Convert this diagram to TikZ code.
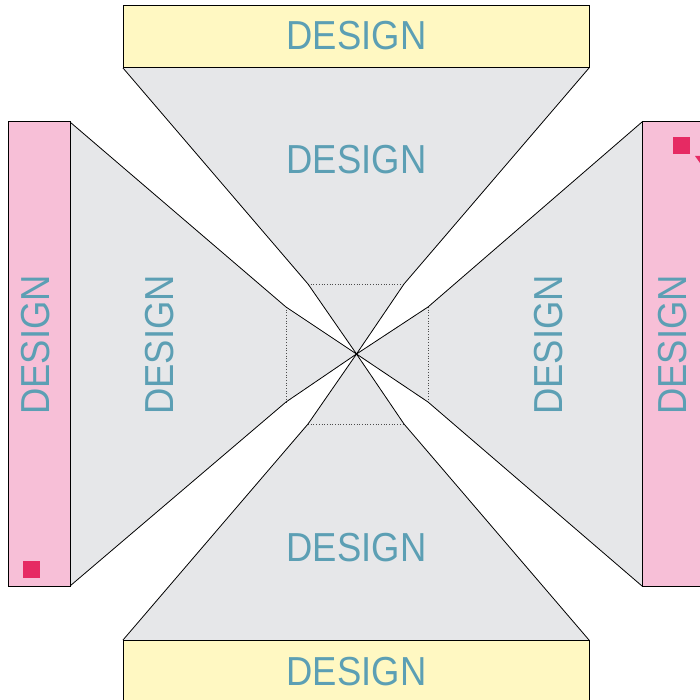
\documentclass[tikz,border=0pt]{standalone}
\usepackage{fontspec}
\newfontfamily\lblfont{Liberation Sans}[FakeStretch=0.9]
\definecolor{yel}{HTML}{FFF8C2}
\definecolor{pnk}{HTML}{F7BFD7}
\definecolor{gry}{HTML}{E6E7E9}
\definecolor{txt}{HTML}{5C9FB4}
\definecolor{mag}{HTML}{E62A63}
\tikzset{
  lbl/.style={inner sep=0pt, text=txt, font=\lblfont\fontsize{40.5}{44}\selectfont},
  piece/.style={fill=gry, draw=none},
  edge/.style={draw=black, line width=0.8pt, line join=miter},
  inner/.style={draw=black!70, dotted, line width=0.7pt},
  box/.style={draw=black, line width=1pt},
}
\begin{document}
\begin{tikzpicture}[x=1pt,y=-1pt]
\useasboundingbox (0,0) rectangle (700,700);
\clip (0,0) rectangle (700,700);
\coordinate (C) at (356.5,354);
% gray pieces
\fill[piece] (123,68) -- (589,68) -- (404,284) -- (C) -- (308,284) -- cycle;
\fill[piece] (123,640) -- (589,640) -- (404,424) -- (C) -- (308,424) -- cycle;
\fill[piece] (70,122) -- (70,586) -- (286,402) -- (C) -- (286,307) -- cycle;
\fill[piece] (642,122) -- (642,586) -- (428,402) -- (C) -- (428,307) -- cycle;
% dotted inner edges
\draw[inner] (308,284) -- (404,284);
\draw[inner] (308,424) -- (404,424);
\draw[inner] (286,307) -- (286,402);
\draw[inner] (428,307) -- (428,402);
% slanted edges
\draw[edge] (123,68) -- (308,284) -- (C) -- (404,284) -- (589,68);
\draw[edge] (123,640) -- (308,424) -- (C) -- (404,424) -- (589,640);
\draw[edge] (70,122) -- (286,307) -- (C) -- (286,402) -- (70,586);
\draw[edge] (642,122) -- (428,307) -- (C) -- (428,402) -- (642,586);
% boxes
\draw[box, fill=yel] (123,6) rectangle (589,68);
\draw[box, fill=yel] (123,640) rectangle (589,704);
\draw[box, fill=pnk] (8,122) rectangle (70,586);
\draw[box, fill=pnk] (642,122) rectangle (706,586);
% magenta marks
\fill[mag] (23,561) rectangle (40,578);
\fill[mag] (673,137) rectangle (690,154);
\fill[mag] (695,156) -- (704,156) -- (700,163) -- cycle;
% labels
\node[lbl] (t1) at (356.5,36) {DESIGN};
\node[lbl] (t2) at (356.5,160) {DESIGN};
\node[lbl] (t3) at (356.5,548) {DESIGN};
\node[lbl] (t4) at (356.5,672) {DESIGN};
\node[lbl, rotate=90] (t5) at (36,345) {DESIGN};
\node[lbl, rotate=90] (t6) at (160,345) {DESIGN};
\node[lbl, rotate=90] (t7) at (549,345) {DESIGN};
\node[lbl, rotate=90] (t8) at (673,345) {DESIGN};
\end{tikzpicture}
\end{document}
